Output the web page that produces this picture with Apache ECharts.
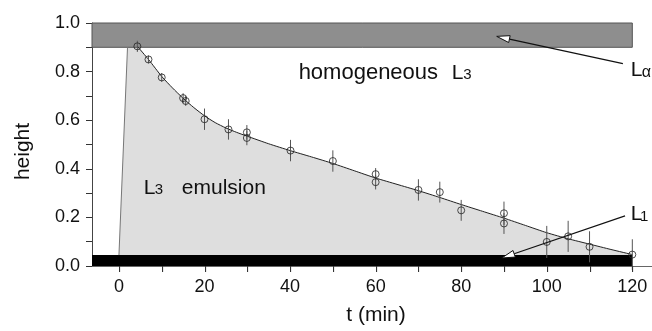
<!DOCTYPE html>
<html><head><meta charset="utf-8">
<script src="https://cdn.jsdelivr.net/npm/echarts@6/dist/echarts.min.js"></script>
<style>html,body{margin:0;padding:0;background:#fff}#c{width:652px;height:331px}</style>
</head><body><div id="c"></div>
<script>
// ---- tick settings ----
const xTickValues = [0,10,20,30,40,50,60,70,80,90,100,110,120];
const xLabelStep = 20;     // labelled tick spacing on t axis
const yTickStep = 0.1;
const yLabelStep = 0.2;

// ---- measured points (t, height, error) ----
const pointT   = [4.3, 6.9, 10, 15, 15.6, 20, 25.6, 29.9, 29.9, 40.1, 50, 60, 60, 70, 75, 80, 90, 90, 100, 105, 110, 120];
const pointH   = [0.904,0.850,0.776,0.691,0.679,0.604,0.562,0.550,0.527,0.475,0.432,0.378,0.345,0.313,0.304,0.229,0.217,0.175,0.099,0.122,0.079,0.047];
const pointErr = [0.023,0.016,0.018,0.02,0.02,0.044,0.042,0.03,0.03,0.044,0.044,0.025,0.03,0.044,0.043,0.043,0.048,0.043,0.066,0.064,0.064,0.063];

// ---- fitted curve ----
const curveT = [4.3, 7, 10, 12.5, 15, 17.5, 20, 22.5, 25, 27.5, 30, 35, 40, 45, 50, 55, 60, 65, 70, 75, 80, 85, 90, 95, 100, 105, 110, 115, 120];
const curveH = [0.904,0.848,0.78,0.733,0.69,0.652,0.618,0.59,0.568,0.55,0.534,0.503,0.475,0.449,0.422,0.392,0.362,0.336,0.31,0.282,0.253,0.225,0.197,0.167,0.137,0.112,0.09,0.068,0.047];

// ---- boundary of emulsion region (left edge) ----
const edgeT = [0, 2];
const edgeH = [0.045, 0.9];

// ---- phase bands: [tStart, hLow, tEnd, hHigh] ----
const xMin = -6.3, xMax = 124.6;
const bandLalpha = [xMin, 0.9, 120, 1.0];
const bandL1 = [xMin, 0.0, 120, 0.045];

// ---- arrows: [tail, tip] in data units ----
const arrowLalpha = [[117.8, 0.833], [88.3, 0.945]];
const arrowL1 = [[118.3, 0.206], [89.5, 0.033]];

// ---- text annotations: [text, t, baselineH, fontSize] ----
const labels = [
  ['homogeneous', 42.0, 0.764, 22],
  ['L', 77.8, 0.764, 21], ['3', 80.5, 0.764, 15],
  ['L', 5.8, 0.290, 21], ['3', 8.35, 0.290, 15],
  ['emulsion', 14.7, 0.290, 21],
  ['L', 119.65, 0.774, 21], ['\u03b1', 122.2, 0.774, 16],
  ['L', 119.65, 0.182, 21], ['1', 121.8, 0.182, 15]
];

const FONT = '"Liberation Sans", Arial, Helvetica, sans-serif';
const chart = echarts.init(document.getElementById('c'), null, {renderer: 'canvas'});

const pts = pointT.map((t, i) => [t, pointH[i], pointErr[i]]);
const curve = curveT.map((t, i) => [t, curveH[i]]);
const edge = edgeT.map((t, i) => [t, edgeH[i]]);
const fillData = edge.concat(curve.slice(1));
fillData.splice(2, 0, curve[0]);

function isMult(v, step) { const r = v / step; return Math.abs(r - Math.round(r)) < 1e-6; }

const option = {
  animation: false,
  backgroundColor: '#fff',
  grid: {left: 92, right: 0, top: 23, bottom: 59, containLabel: false},
  xAxis: {
    type: 'value', min: xMin, max: xMax,
    minInterval: xLabelStep, maxInterval: xLabelStep,
    name: 't (min)', nameLocation: 'middle', nameGap: 39,
    nameTextStyle: {fontSize: 21, color: '#111', fontFamily: FONT, padding: [0, 0, 0, 8]},
    axisLine: {show: true, onZero: false, lineStyle: {color: '#666', width: 1}},
    axisTick: {show: false},
    axisLabel: {fontSize: 18, color: '#111', fontFamily: FONT, margin: 12,
      showMinLabel: false, showMaxLabel: false,
      formatter: v => isMult(v, xLabelStep) ? String(Math.round(v)) : ''},
    splitLine: {show: false}
  },
  yAxis: {
    type: 'value', min: 0, max: 1, interval: yTickStep,
    name: 'height', nameLocation: 'middle', nameGap: 58, nameRotate: 90,
    nameTextStyle: {fontSize: 21, color: '#111', fontFamily: FONT, padding: [0, 14, 0, 0]},
    axisLine: {show: true, onZero: false, lineStyle: {color: '#444', width: 1}},
    axisTick: {show: true, length: 6, lineStyle: {color: '#333'}},
    axisLabel: {fontSize: 18, color: '#111', fontFamily: FONT, margin: 12,
      formatter: v => isMult(v, yLabelStep) ? Number(v).toFixed(1) : ''},
    splitLine: {show: false}
  },
  series: [
    {
      type: 'line', data: fillData, showSymbol: false, silent: true, z: 1,
      lineStyle: {width: 0, opacity: 0},
      areaStyle: {color: '#dedede', opacity: 1, origin: 'start'}
    },
    {
      type: 'custom', silent: true, z: 2,
      data: [bandLalpha.concat([0]), bandL1.concat([1])],
      renderItem: (params, api) => {
        const a = api.coord([api.value(0), api.value(3)]);
        const b = api.coord([api.value(2), api.value(1)]);
        const dark = api.value(4) === 1;
        return {
          type: 'rect',
          shape: {x: a[0], y: a[1], width: b[0] - a[0], height: b[1] - a[1]},
          style: dark ? {fill: '#000'} : {fill: '#8e8e8e', stroke: '#555', lineWidth: 1}
        };
      }
    },
    {
      type: 'line', data: edge, showSymbol: false, silent: true, z: 3,
      lineStyle: {color: '#777', width: 1}
    },
    {
      type: 'line', data: curve, showSymbol: false, silent: true, z: 3, smooth: 0.2,
      lineStyle: {color: '#222', width: 1}
    },
    {
      type: 'custom', silent: true, z: 4, data: pts, encode: {x: 0, y: 1},
      renderItem: (params, api) => {
        const t = api.value(0), h = api.value(1), e = api.value(2);
        const p1 = api.coord([t, h - e]), p2 = api.coord([t, h + e]);
        return {type: 'line', shape: {x1: p1[0], y1: p1[1], x2: p2[0], y2: p2[1]},
          style: {stroke: '#555', lineWidth: 1}};
      }
    },
    {
      type: 'scatter', data: pts.map(p => [p[0], p[1]]), symbol: 'circle', symbolSize: 7, z: 5, silent: true,
      itemStyle: {color: 'rgba(0,0,0,0)', borderColor: '#222', borderWidth: 1}
    }
  ]
};
chart.setOption(option);

function px(p) { return chart.convertToPixel({gridIndex: 0}, p); }
function arrow(a) {
  const tail = px(a[0]), tip = px(a[1]);
  const dx = tail[0] - tip[0], dy = tail[1] - tip[1];
  const L = Math.sqrt(dx * dx + dy * dy), ux = dx / L, uy = dy / L;
  const len = 13, hw = 3.5;
  const bx = tip[0] + ux * len, by = tip[1] + uy * len;
  return [
    {type: 'line', z: 10, shape: {x1: tail[0], y1: tail[1], x2: bx, y2: by}, style: {stroke: '#111', lineWidth: 1.2}},
    {type: 'polygon', z: 11, shape: {points: [tip, [bx - uy * hw, by + ux * hw], [bx + uy * hw, by - ux * hw]]},
      style: {fill: '#fff', stroke: '#111', lineWidth: 1}}
  ];
}
const elements = [].concat(arrow(arrowLalpha), arrow(arrowL1));
// x-axis ticks every 10 min, placed through the axis scale
xTickValues.forEach(v => {
  const p = px([v, 0]);
  const x = Math.round(p[0]) + 0.5, y = Math.round(p[1]);
  elements.push({type: 'rect', z: 20, shape: {x: x - 0.5, y: y, width: 1.1, height: 6},
    style: {fill: '#333'}});
});
labels.forEach(l => {
  const p = px([l[1], l[2]]);
  elements.push({
    type: 'text', z: 12, x: p[0], y: p[1] - 0.35 * l[3],
    style: {text: l[0], fill: '#111', font: l[3] + 'px ' + FONT,
      align: 'left', verticalAlign: 'middle', textAlign: 'left', textVerticalAlign: 'middle'}
  });
});
chart.setOption({graphic: {elements: elements}});
</script>
</body></html>
